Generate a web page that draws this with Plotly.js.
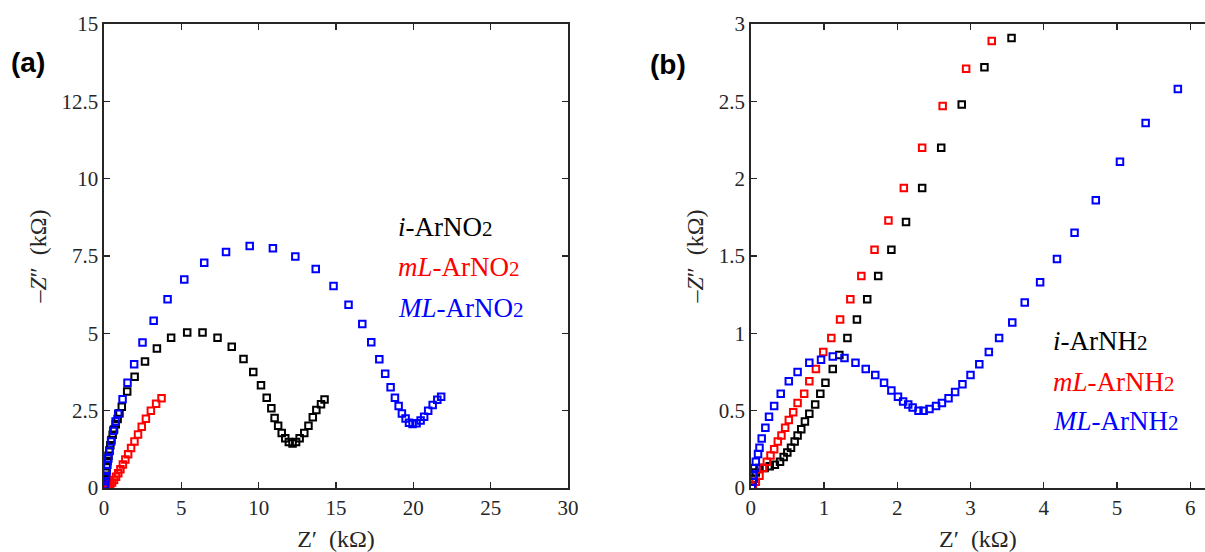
<!DOCTYPE html>
<html>
<head>
<meta charset="utf-8">
<script src="https://cdn.plot.ly/plotly-3.0.1.min.js"></script>
<style>html,body{margin:0;padding:0;background:#fff;}#chart{width:1205px;height:552px;}</style>
</head>
<body>
<div id="chart"></div>
<script>
// ---------- Panel (a): ArNO2 ----------
const aBlackX = [0.02,0.03,0.05,0.07,0.09,0.11,0.14,0.18,0.23,0.29,0.35,0.41,0.48,0.56,0.65,0.76,0.88,1.0,1.15,1.5,1.98,2.65,3.42,4.34,5.38,6.37,7.34,8.26,9.02,9.65,10.15,10.52,10.82,11.03,11.26,11.49,11.72,11.95,12.19,12.42,12.65,12.95,13.22,13.5,13.73,14.03,14.26];
const aBlackY = [0.02,0.06,0.12,0.18,0.28,0.4,0.52,0.7,0.87,1.04,1.21,1.38,1.55,1.72,1.89,2.06,2.23,2.42,2.63,3.12,3.6,4.09,4.51,4.86,5.03,5.03,4.86,4.57,4.17,3.75,3.32,2.92,2.58,2.26,2.01,1.78,1.61,1.49,1.44,1.49,1.61,1.78,2.01,2.29,2.52,2.71,2.86];

const aRedX = [0.02,0.05,0.1,0.18,0.28,0.4,0.52,0.65,0.78,0.92,1.06,1.22,1.38,1.56,1.75,1.97,2.2,2.44,2.71,3.03,3.37,3.72];
const aRedY = [0.01,0.03,0.05,0.07,0.1,0.13,0.18,0.26,0.36,0.48,0.61,0.76,0.92,1.09,1.29,1.5,1.73,1.98,2.24,2.5,2.72,2.9];

const aBlueX = [0.03,0.06,0.09,0.13,0.17,0.22,0.28,0.36,0.46,0.6,0.75,0.92,1.2,1.52,1.95,2.49,3.21,4.11,5.19,6.48,7.89,9.42,10.92,12.37,13.69,14.84,15.81,16.7,17.28,17.8,18.18,18.53,18.81,19.05,19.26,19.5,19.72,19.95,20.21,20.47,20.7,20.96,21.25,21.55,21.8];
const aBlueY = [0.03,0.1,0.22,0.38,0.55,0.75,0.95,1.2,1.5,1.85,2.15,2.4,2.87,3.4,4.0,4.7,5.41,6.1,6.74,7.28,7.63,7.82,7.75,7.48,7.08,6.53,5.92,5.3,4.71,4.16,3.69,3.26,2.92,2.65,2.41,2.25,2.11,2.07,2.09,2.18,2.3,2.5,2.68,2.85,2.95];

// ---------- Panel (b): ArNH2 ----------
const bBlackX = [0.015,0.04,0.07,0.12,0.19,0.26,0.33,0.4,0.45,0.5,0.55,0.6,0.64,0.69,0.74,0.8,0.88,0.95,1.02,1.12,1.21,1.32,1.45,1.59,1.74,1.92,2.12,2.34,2.6,2.88,3.19,3.56];
const bBlackY = [0.014,0.06,0.1,0.13,0.13,0.14,0.15,0.17,0.2,0.23,0.26,0.3,0.34,0.38,0.43,0.48,0.54,0.61,0.68,0.77,0.86,0.97,1.09,1.22,1.37,1.54,1.72,1.94,2.2,2.48,2.72,2.91];

const bRedX = [0.03,0.07,0.12,0.17,0.22,0.27,0.32,0.37,0.42,0.47,0.52,0.58,0.64,0.73,0.8,0.89,0.99,1.1,1.22,1.36,1.51,1.69,1.88,2.09,2.34,2.62,2.94,3.29];
const bRedY = [0.014,0.04,0.08,0.13,0.17,0.21,0.25,0.3,0.34,0.39,0.44,0.49,0.55,0.61,0.69,0.77,0.88,0.97,1.09,1.22,1.37,1.54,1.73,1.94,2.2,2.47,2.71,2.89];

const bBlueX = [0.015,0.025,0.04,0.05,0.07,0.1,0.12,0.15,0.2,0.25,0.32,0.41,0.52,0.64,0.8,0.96,1.12,1.28,1.43,1.57,1.7,1.82,1.92,2.01,2.08,2.15,2.21,2.29,2.36,2.44,2.53,2.61,2.7,2.79,2.89,3.0,3.12,3.25,3.39,3.57,3.74,3.95,4.18,4.42,4.71,5.04,5.39,5.83];
const bBlueY = [0.0,0.04,0.08,0.13,0.17,0.22,0.26,0.32,0.39,0.46,0.53,0.61,0.69,0.75,0.81,0.83,0.85,0.84,0.81,0.77,0.73,0.68,0.63,0.59,0.56,0.54,0.52,0.5,0.5,0.51,0.53,0.55,0.58,0.62,0.67,0.73,0.8,0.88,0.97,1.07,1.2,1.33,1.48,1.65,1.86,2.11,2.36,2.58];

const xTitle = "Z\u2032\u00a0\u00a0(k\u03A9)";
const yTitle = "\u2013<i>Z</i>\u2033\u00a0\u00a0(k\u03A9)";
const sub = "<span style='font-size:21px'>2</span>";
const labelsA = ["<i>i</i>-ArNO" + sub, "<i>mL</i>-ArNO" + sub, "<i>ML</i>-ArNO" + sub];
const labelsB = ["<i>i</i>-ArNH" + sub, "<i>mL</i>-ArNH" + sub, "<i>ML</i>-ArNH" + sub];
const colors = ["#000000", "#ff0000", "#0000ff"];

const SERIF = "Liberation Serif";
const SANS = "Liberation Sans";
const axisGray = "#262626";

function mk(x, y, c, xa, ya) {
  return {x: x, y: y, type: "scatter", mode: "markers", xaxis: xa, yaxis: ya,
          marker: {symbol: "square-open", size: 6.5, color: c, line: {width: 2, color: c}},
          showlegend: false, hoverinfo: "x+y"};
}

const data = [
  mk(aBlackX, aBlackY, colors[0], "x", "y"),
  mk(aRedX, aRedY, colors[1], "x", "y"),
  mk(aBlueX, aBlueY, colors[2], "x", "y"),
  mk(bBlackX, bBlackY, colors[0], "x2", "y2"),
  mk(bRedX, bRedY, colors[1], "x2", "y2"),
  mk(bBlueX, bBlueY, colors[2], "x2", "y2")
];

const W = 1205, H = 552;
function axis(extra, isX) {
  const a = {
    showline: true, linecolor: axisGray, linewidth: 1.6,
    ticks: "inside", ticklen: 6, tickwidth: 1.4, tickcolor: axisGray,
    showgrid: false, zeroline: false,
    tickfont: {family: SERIF, size: 21, color: axisGray},
    title: {text: isX ? xTitle : yTitle, standoff: isX ? 20 : 8, font: {family: SERIF, size: 24, color: axisGray}}
  };
  return Object.assign(a, extra);
}

const layout = {
  width: W, height: H,
  font: {family: SERIF, color: axisGray},
  margin: {l: 0, r: 0, t: 0, b: 0},
  xaxis: axis({domain: [104 / W, 568 / W], range: [0, 30], dtick: 5, mirror: "ticks", anchor: "y"}, true),
  yaxis: axis({domain: [64 / H, 528 / H], range: [0, 15], dtick: 2.5, mirror: "ticks", anchor: "x"}, false),
  xaxis2: axis({domain: [750.7 / W, 1], range: [0, (W - 750.7) / 73.27], dtick: 1, mirror: "ticks", anchor: "y2"}, true),
  yaxis2: axis({domain: [64 / H, 528 / H], range: [0, 3], dtick: 0.5, mirror: false, anchor: "x2"}, false),
  annotations: []
};

const ayA = [8.45, 7.13, 5.82];
const ayB = [0.948, 0.686, 0.435];
for (let i = 0; i < 3; i++) {
  layout.annotations.push({xref: "x", yref: "y", x: 18.88, y: ayA[i], xanchor: "left", yanchor: "middle",
    text: labelsA[i], showarrow: false, font: {family: SERIF, size: 27, color: colors[i]}});
  layout.annotations.push({xref: "x2", yref: "y2", x: 4.1, y: ayB[i], xanchor: "left", yanchor: "middle",
    text: labelsB[i], showarrow: false, font: {family: SERIF, size: 27, color: colors[i]}});
}
layout.annotations.push({xref: "paper", yref: "paper", x: 28 / W, y: 1 - 63 / H, xanchor: "center", yanchor: "middle",
  text: "<b>(a)</b>", showarrow: false, font: {family: SANS, size: 28, color: "#000"}});
layout.annotations.push({xref: "paper", yref: "paper", x: 668 / W, y: 1 - 65 / H, xanchor: "center", yanchor: "middle",
  text: "<b>(b)</b>", showarrow: false, font: {family: SANS, size: 28, color: "#000"}});

Plotly.newPlot("chart", data, layout, {displayModeBar: false, staticPlot: true});
</script>
</body>
</html>
